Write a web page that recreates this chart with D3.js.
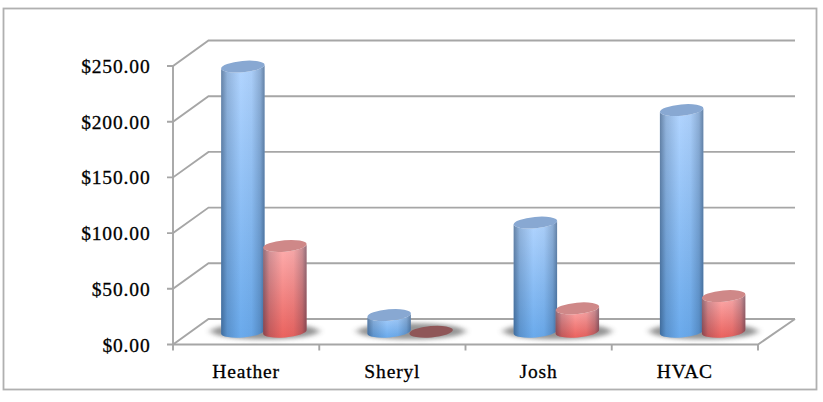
<!DOCTYPE html>
<html><head><meta charset="utf-8">
<script src="https://cdn.jsdelivr.net/npm/d3@7"></script>
<style>html,body{margin:0;padding:0;background:#fff}svg{display:block}
text{font-family:"Liberation Serif",serif;font-size:19.5px;letter-spacing:.85px;fill:#000;stroke:#000;stroke-width:.3px}</style>
</head><body><div id="c"></div>
<script>
const categories = ["Heather","Sheryl","Josh","HVAC"];
const seriesBlue = [238,15,98,199];
const seriesRed = [77,0,21,32];
const tickValues = [0,50,100,150,200,250];
const W=823,H=402;
const svg=d3.select("#c").append("svg").attr("width",W).attr("height",H);
const defs=svg.append("defs");
const dx=35.5,dy=-25.5;
const x=d3.scaleBand().domain(categories).range([173,758]);
const y=d3.scaleLinear().domain([0,250]).range([344.5,66]);
const fmt=d3.format("$.2f");
const grid="#a6a6a6";
svg.append("rect").attr("x",3.5).attr("y",8.5).attr("width",813).attr("height",381).attr("fill","#fff").attr("stroke","#b0b0b0").attr("stroke-width",1.8);

const g=svg.append("g").attr("fill","none").attr("stroke",grid).attr("stroke-width",1.9);
tickValues.forEach(t=>{
  const yy=y(t);
  g.append("path").attr("d",`M167,${yy}L173,${yy}L${173+dx},${yy+dy}L795,${yy+dy}`);
});
g.append("path").attr("d",`M173,${y(0)}V${y(250)}`);
g.append("path").attr("d",`M173,${y(0)}L758,${y(0)}L795,${y(0)+dy}`);
[173,...categories.map(c=>x(c)+x.bandwidth())].forEach(v=>g.append("path").attr("d",`M${v},${y(0)}V${y(0)+6}`));

const blur=defs.append("filter").attr("id","sh").attr("x","-30%").attr("y","-100%").attr("width","160%").attr("height","300%");
blur.append("feGaussianBlur").attr("stdDeviation","3.5 2");
const gradV=(id,a,b)=>{const l=defs.append("linearGradient").attr("id",id).attr("x1",0).attr("y1",0).attr("x2",0).attr("y2",1);
  l.append("stop").attr("offset",0).attr("stop-color",a);l.append("stop").attr("offset",1).attr("stop-color",b);};
gradV("blue","#b2d5ff","#6aaaec");
gradV("red","#ffb0b0","#ea625e");
const ed=defs.append("linearGradient").attr("id","edge");
[[0,.45],[.14,.18],[.45,0],[.7,.04],[.9,.22],[1,.45]].forEach(([o,a])=>ed.append("stop").attr("offset",o).attr("stop-color","#0a1f3a").attr("stop-opacity",a));

const rx=21.8,ry=5.7,rot=-5,off=21;
const sdx=Math.cos(rot*Math.PI/180)*rx, sdy=Math.sin(rot*Math.PI/180)*rx;
const cyl=(cx,v,fill,top)=>{
  const y0=y(0)+dy/2,y1=y(v)+dy/2;
  const p=`M${cx-sdx},${y1-sdy}L${cx-sdx},${y0-sdy}A${rx},${ry} ${rot} 0 0 ${cx+sdx},${y0+sdy}L${cx+sdx},${y1+sdy}A${rx},${ry} ${rot} 0 1 ${cx-sdx},${y1-sdy}Z`;
  const n=svg.append("g");
  n.append("path").attr("d",p).attr("fill",`url(#${fill})`);
  n.append("path").attr("d",p).attr("fill","url(#edge)");
  n.append("ellipse").attr("rx",rx).attr("ry",ry).attr("fill",top).attr("transform",`translate(${cx},${y1}) rotate(${rot})`);
};
const midX=c=>x(c)+x.bandwidth()/2+dx/2;
categories.forEach(c=>{
  svg.append("ellipse").attr("cx",midX(c)+1).attr("cy",y(0)+dy/2-0.5).attr("rx",54).attr("ry",8)
    .attr("fill","#555").attr("opacity",.62).attr("filter","url(#sh)");
});
categories.forEach((c,i)=>{
  cyl(midX(c)-off,seriesBlue[i],"blue","#88a8d2");
  if(seriesRed[i]>0) cyl(midX(c)+off,seriesRed[i],"red","#cf8888");
  else svg.append("ellipse").attr("rx",rx).attr("ry",ry).attr("fill","#8f5658").attr("transform",`translate(${midX(c)+off},${y(0)+dy/2}) rotate(${rot})`);
});
tickValues.forEach(t=>svg.append("text").attr("x",150.5).attr("y",y(t)+7).attr("text-anchor","end").text(fmt(t)));
categories.forEach(c=>svg.append("text").attr("x",x(c)+x.bandwidth()/2).attr("y",377.5).attr("text-anchor","middle").text(c));
</script></body></html>
